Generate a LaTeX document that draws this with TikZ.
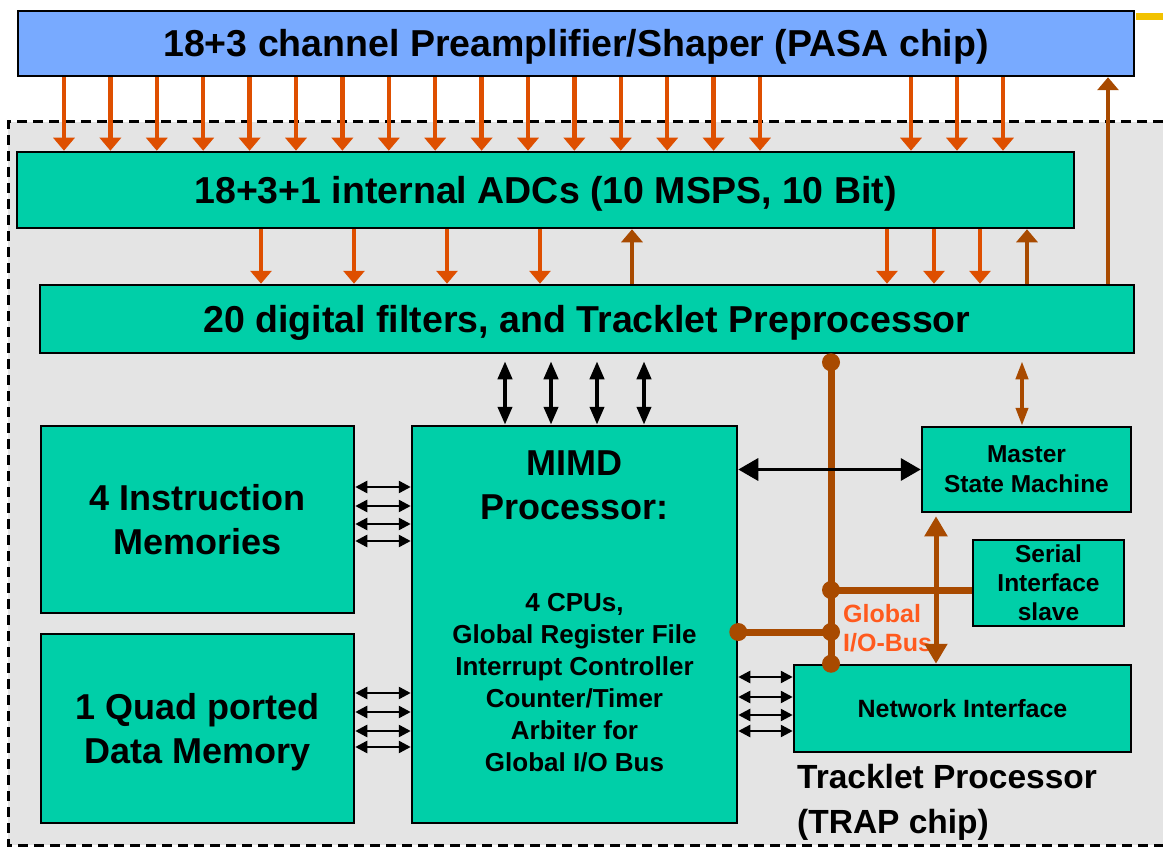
\documentclass[tikz,border=0pt]{standalone}
\usepackage{fontspec}
\setmainfont{Liberation Sans}
\usetikzlibrary{arrows.meta,calc,positioning}
\definecolor{trapgreen}{HTML}{00CFA8}
\definecolor{trapblue}{HTML}{78AAFF}
\definecolor{trapred}{HTML}{DE4F00}
\definecolor{trapbrown}{HTML}{A84A00}
\definecolor{traporange}{HTML}{FF5A1E}
\definecolor{trapgray}{HTML}{E4E4E4}
\definecolor{trapgold}{HTML}{F2C200}
\begin{document}
\begin{tikzpicture}[x=1pt, y=-1pt,
  trapbox/.style = {draw=black, line width=2.5pt, fill=trapgreen, inner sep=0pt, align=center},
  trapone/.style = {text height=27pt, text depth=0pt},
  trapbig/.style = {font=\fontsize{37.5}{45}\selectfont\bfseries},
  trapmid/.style = {font=\fontsize{36}{44}\selectfont\bfseries},
  trapsmall/.style = {font=\fontsize{24.5}{30}\selectfont\bfseries},
  trapsig/.style = {draw=trapred, line width=4.5pt, -{Triangle[width=21pt,length=13pt]}},
  trapret/.style = {draw=trapbrown, line width=4.5pt, -{Triangle[width=21pt,length=13pt]}},
  trapport/.style = {line width=2.5pt, >={Triangle[width=12pt,length=12pt]}, <->},
  trapwide/.style = {line width=3.5pt, >={Triangle[width=22pt,length=20pt]}, <->},
  trapbus/.style = {draw=trapbrown, line width=7pt},
  trapdot/.style = {fill=trapbrown}
]
  \useasboundingbox (0,0) rectangle (1163,848);
  % TRAP chip area
  \fill[trapgray] (8,122) rectangle (1163,845);
  \draw[line width=3pt, dash pattern=on 10pt off 6pt]
    (1163,122) -- (8,122) -- (8,845) -- (1163,845);
  \draw[trapgold, line width=7pt] (1136,17) -- (1163,17);
  % blocks
  \node[trapbox, trapbig, trapone, fill=trapblue, minimum width=1116pt, minimum height=65pt]
    (pasa) at (576,43.5) {18+3 channel Preamplifier/Shaper (PASA chip)};
  \node[trapbox, trapbig, trapone, minimum width=1057pt, minimum height=76pt]
    (adc) at (545.5,190) {18+3+1 internal ADCs (10 MSPS, 10 Bit)};
  \node[trapbox, trapbig, trapone, minimum width=1094pt, minimum height=68pt]
    (filter) at (587,319) {20 digital filters, and Tracklet Preprocessor};
  \node[trapbox, trapmid, minimum width=313pt, minimum height=187pt]
    (imem) at (197.5,519.5) {4 Instruction\\Memories};
  \node[trapbox, trapmid, minimum width=313pt, minimum height=189pt]
    (dmem) at (197.5,728.5) {1 Quad ported\\Data Memor\smash{y}};
  \node[trapbox, minimum width=325pt, minimum height=397pt]
    (mimd) at (574.5,624.5) {};
  \node[trapmid, align=center] (mimdname) at (574.5,485.5) {MIMD\\Processor:};
  \node[font=\fontsize{26}{32}\selectfont\bfseries, align=center]
    (mimdunits) at (574.5,682.5)
    {4 CPUs,\\Global Register File\\Interrupt Controller\\Counter/Timer\\Arbiter for\\Global I/O Bus};
  \node[trapbox, trapsmall, minimum width=209pt, minimum height=85pt]
    (master) at (1026.5,469.5) {Master\\State Machine};
  \node[trapbox, font=\fontsize{24.5}{29}\selectfont\bfseries, minimum width=151pt, minimum height=86pt]
    (serial) at (1048.5,583) {Serial\\Interface\\slave};
  \node[trapbox, font=\fontsize{25}{29}\selectfont\bfseries, text height=18pt, text depth=0pt,
    minimum width=337pt, minimum height=87pt]
    (ni) at (962.5,708.5) {Network Interface};
  \node[font=\fontsize{33.5}{45}\selectfont\bfseries, align=left, anchor=north west, inner sep=0pt]
    (trapname) at (797,764) {Tracklet Processor\\(TRAP chip)};
  % analog channels
  \foreach \x in {64,110.4,...,761,911,957,1003}
    \draw[trapsig] (\x,0 |- pasa.south) -- (\x,0 |- adc.north);
  \foreach \x in {261,354,447,540,887,934,980}
    \draw[trapsig] (\x,0 |- adc.south) -- (\x,0 |- filter.north);
  \foreach \x in {632,1027}
    \draw[trapret] (\x,0 |- filter.north) -- (\x,0 |- adc.south);
  \draw[trapret] (1108,0 |- filter.north) -- (1108,0 |- pasa.south);
  % global I/O bus
  \coordinate (bustop) at ($(831,0 |- filter.south)+(0,8)$);
  \coordinate (busser) at (831,590);
  \coordinate (busmimd) at (831,632);
  \coordinate (busni) at (831,0 |- ni.north);
  \draw[trapbus] (bustop) -- (busni);
  \draw[trapbus] (busser) -- (busser -| serial.west);
  \draw[trapbus] (busmimd) -- (busmimd -| mimd.east);
  \foreach \p in {bustop,busser,busmimd,busni}
    \fill[trapdot] (\p) circle (9pt);
  \fill[trapdot] (busmimd -| mimd.east) circle (9pt);
  \node[font=\fontsize{25}{29}\selectfont\bfseries, text=traporange, align=left,
    anchor=north west, inner sep=0pt] (buslbl) at ($(busmimd)+(12,-28)$) {Global\\I/O-Bus};
  % ports
  \foreach \y in {487,506,524,541}
    \draw[trapport] (imem.east |- 0,\y) -- (mimd.west |- 0,\y);
  \foreach \y in {693,712,731,747}
    \draw[trapport] (dmem.east |- 0,\y) -- (mimd.west |- 0,\y);
  \foreach \y in {677,697,715,731}
    \draw[trapport] (mimd.east |- 0,\y) -- (ni.west |- 0,\y);
  \foreach \x in {505,551,597,644}
    \draw[line width=4pt, >={Triangle[width=14pt,length=18pt]}, <->, shorten <=7pt]
      (\x,0 |- filter.south) -- (\x,0 |- mimd.north);
  \draw[trapwide] (mimd.east |- master.west) -- (master.west);
  \draw[trapbrown, line width=4pt, >={Triangle[width=12pt,length=18pt]}, <->, shorten <=7pt]
    (1022,0 |- filter.south) -- (1022,0 |- master.north);
  \draw[trapbrown, trapwide, line width=5pt, shorten <=3pt]
    (936,0 |- master.south) -- (936,0 |- ni.north);
\end{tikzpicture}
\end{document}
